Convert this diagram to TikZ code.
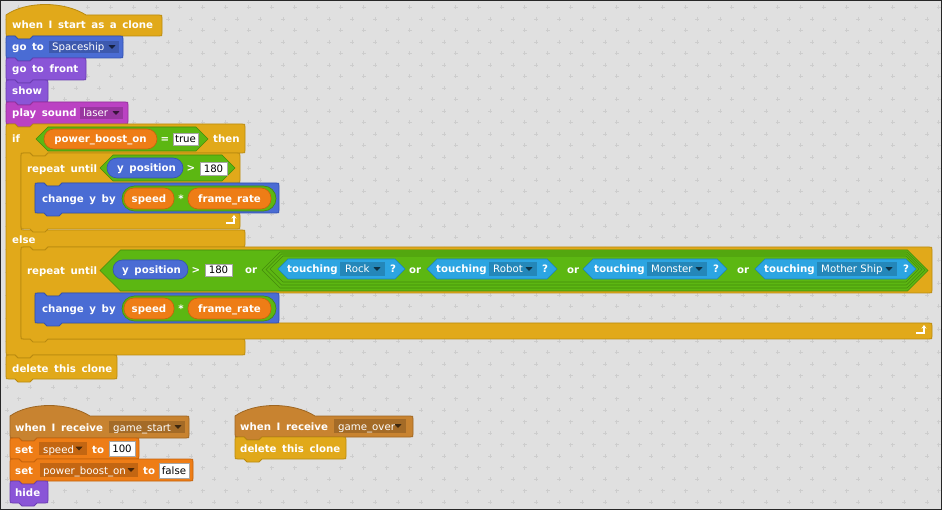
\documentclass[tikz,border=0pt]{standalone}
\usepackage{fontspec}
\setmainfont{DejaVu Sans}
\usetikzlibrary{arrows.meta}
\definecolor{bg}{HTML}{E0E0E0}
\definecolor{gridc}{HTML}{CDCDCD}
\definecolor{ctrl}{HTML}{E1A91A}\definecolor{ctrlD}{HTML}{B98A10}
\definecolor{mot}{HTML}{4A6CD4}\definecolor{motD}{HTML}{3352B0}
\definecolor{look}{HTML}{8A55D7}\definecolor{lookD}{HTML}{6A3DB0}
\definecolor{snd}{HTML}{BB42C3}\definecolor{sndD}{HTML}{93309A}
\definecolor{evt}{HTML}{C88330}\definecolor{evtD}{HTML}{9E6622}
\definecolor{var}{HTML}{EE7D16}\definecolor{varD}{HTML}{C4620C}
\definecolor{op}{HTML}{5CB712}\definecolor{opD}{HTML}{448A0C}
\definecolor{sens}{HTML}{2CA5E2}\definecolor{sensD}{HTML}{1C82B8}
\newcommand\lblfont{\fontsize{10.2}{12}\selectfont\bfseries\spaceskip 5.6pt\relax}
\newcommand\ddfont{\fontsize{10.2}{12}\selectfont}
\newcommand\stackblk[5]{%
\path[fill=#1, draw=#1D, line width=0.8pt]
 (#2,#3+3) .. controls (#2,#3) .. (#2+3,#3) -- (#2+9,#3) -- (#2+12,#3+3) -- (#2+24,#3+3) -- (#2+27,#3)
 -- (#4-3,#3) .. controls (#4,#3) .. (#4,#3+3) -- (#4,#5-3) .. controls (#4,#5) .. (#4-3,#5)
 -- (#2+27,#5) -- (#2+24,#5+3) -- (#2+12,#5+3) -- (#2+9,#5) -- (#2+3,#5) .. controls (#2,#5) .. (#2,#5-3) -- cycle;}
\newcommand\hatblk[5]{%
\path[fill=#1, draw=#1D, line width=0.8pt]
 (#2,#3) .. controls (#2+20,#3-14) and (#2+58,#3-14) .. (#2+80,#3)
 -- (#4-3,#3) .. controls (#4,#3) .. (#4,#3+3) -- (#4,#5-3) .. controls (#4,#5) .. (#4-3,#5)
 -- (#2+27,#5) -- (#2+24,#5+3) -- (#2+12,#5+3) -- (#2+9,#5) -- (#2+3,#5) .. controls (#2,#5) .. (#2,#5-3) -- cycle;}
\newcommand\cblk[8]{%
\path[fill=#1, draw=#1D, line width=0.8pt]
 (#2,#3+3) .. controls (#2,#3) .. (#2+3,#3) -- (#2+9,#3) -- (#2+12,#3+3) -- (#2+24,#3+3) -- (#2+27,#3)
 -- (#4-3,#3) .. controls (#4,#3) .. (#4,#3+3) -- (#4,#5-3) .. controls (#4,#5) .. (#4-3,#5)
 -- (#2+#8+27,#5) -- (#2+#8+24,#5+3) -- (#2+#8+12,#5+3) -- (#2+#8+9,#5) -- (#2+#8+3,#5) .. controls (#2+#8,#5) .. (#2+#8,#5+3)
 -- (#2+#8,#6-3) .. controls (#2+#8,#6) .. (#2+#8+3,#6)
 -- (#4-3,#6) .. controls (#4,#6) .. (#4,#6+3) -- (#4,#7-3) .. controls (#4,#7) .. (#4-3,#7)
 -- (#2+27,#7) -- (#2+24,#7+3) -- (#2+12,#7+3) -- (#2+9,#7) -- (#2+3,#7) .. controls (#2,#7) .. (#2,#7-3) -- cycle;}
\newcommand\pill[6]{\path[fill=#1, draw=#1D, line width=0.6pt, rounded corners=#6pt] (#2,#3) rectangle (#4,#5);}
\newcommand\hexb[5]{\path[fill=#1, draw=#1D, line width=0.6pt]
 (#2,{(#3+#5)/2}) -- ({#2+(#5-#3)/2},#3) -- ({#4-(#5-#3)/2},#3) -- (#4,{(#3+#5)/2}) -- ({#4-(#5-#3)/2},#5) -- ({#2+(#5-#3)/2},#5) -- cycle;}
\newcommand\ddbox[6]{\path[fill=#1!82!black] (#2,#3) rectangle (#4,#5);
 \fill[#1!30!black] (#6-3.5,{(#3+#5)/2-1.8}) -- (#6+3.5,{(#3+#5)/2-1.8}) -- (#6,{(#3+#5)/2+2}) -- cycle;}
\newcommand\inbox[4]{\path[fill=white, draw=black!35, line width=0.4pt] (#1,#2) rectangle (#3,#4);}
\newcommand\looparrow[2]{\draw[white, line width=1.4pt, -{Stealth[length=3.5pt,width=5pt]}] (#1-8,#2+3) -- (#1,#2+3) -- (#1,#2-5);}
\tikzset{
 lbl/.style={anchor=base west, inner sep=0pt, text=white, font=\lblfont},
 lblc/.style={lbl, anchor=base},
 ddt/.style={anchor=base west, inner sep=0pt, text=white, font=\ddfont},
 numt/.style={anchor=base, inner sep=0pt, text=black, font=\ddfont},
}
\begin{document}
\begin{tikzpicture}[x=1pt,y=-1pt]
\useasboundingbox (0,0) rectangle (942,510);
\fill[bg] (0,0) rectangle (942,510);
\draw[gridc, line width=0.9pt] foreach \i in {0,...,41}{ foreach \j in {0,...,22}{
 (7+23*\i-2,19+23*\j) -- ++(4,0) (7+23*\i,19+23*\j-2) -- ++(0,4)
 (18.5+23*\i-2,7.5+23*\j) -- ++(4,0) (18.5+23*\i,7.5+23*\j-2) -- ++(0,4) }};
\draw[black!85, line width=1pt] (0.5,0.5) rectangle (941.5,509.5);

% ---------- script 1 ----------
\hatblk{ctrl}{6}{15}{162}{36}
\node[lbl] (t1) at (12,29) {when I start as a clone};
\stackblk{mot}{6}{36}{123}{58}
\node[lbl] (t2) at (12,51) {go to};
\ddbox{mot}{49}{41}{119}{53}{112}
\node[ddt] (t2d) at (52,51) {Spaceship};
\stackblk{look}{6}{58}{86}{80}
\node[lbl] (t3) at (12,73) {go to front};
\stackblk{look}{6}{80}{48}{102}
\node[lbl] (t4) at (12,95) {show};
\stackblk{snd}{6}{102}{128}{124}
\node[lbl] (t5) at (12,117) {play sound};
\ddbox{snd}{80}{107}{123}{119}{116}
\node[ddt] (t5d) at (83,117) {laser};

% if / else
\path[fill=ctrl, draw=ctrlD, line width=0.8pt]
 (6,127) .. controls (6,124) .. (9,124) -- (15,124) -- (18,127) -- (30,127) -- (33,124) -- (242,124) .. controls (245,124) .. (245,127) -- (245,150) .. controls (245,153) .. (242,153)
 -- (48,153) -- (45,156) -- (33,156) -- (30,153) -- (24,153) .. controls (21,153) .. (21,156)
 -- (21,227) .. controls (21,230) .. (24,230) -- (242,230) .. controls (245,230) .. (245,233) -- (245,244) .. controls (245,247) .. (242,247)
 -- (48,247) -- (45,250) -- (33,250) -- (30,247) -- (24,247) .. controls (21,247) .. (21,250)
 -- (21,336) .. controls (21,339) .. (24,339) -- (242,339) .. controls (245,339) .. (245,342) -- (245,352) .. controls (245,355) .. (242,355)
 -- (33,355) -- (30,358) -- (18,358) -- (15,355) -- (9,355) .. controls (6,355) .. (6,352) -- cycle;
\node[lbl] (tif) at (12,143) {if};
\hexb{op}{36}{127}{208}{151}
\pill{var}{44}{129}{157}{149}{10}
\node[lblc] (tpb) at (100.5,143) {power\_boost\_on};
\node[lblc] (teq) at (165,143) {=};
\inbox{173}{133}{198}{145}
\node[numt] (ttrue) at (185.5,142.5) {true};
\node[lbl] (tthen) at (213,143) {then};
\node[lbl] (telse) at (12,243.5) {else};

% repeat until 1
\cblk{ctrl}{21}{153}{240}{183}{213}{229}{14}
\node[lbl] (tr1) at (27,173) {repeat until};
\hexb{op}{100}{155}{235}{181}
\pill{mot}{107}{158}{183}{178}{10}
\node[lbl] (typ1) at (117,172) {y position};
\node[lblc] (tgt1) at (191,172) {>};
\inbox{200}{162}{227}{175}
\node[numt] (t180a) at (213.5,172.5) {180};
\looparrow{234}{220}
\stackblk{mot}{35}{183}{279}{213}
\node[lbl] (tcy1) at (42,203) {change y by};
\pill{op}{122}{186}{276}{211}{12.5}
\pill{var}{124}{188}{174}{209}{10}
\node[lblc] (tsp1) at (149,203) {speed};
\node[lblc] (tmul1) at (181,203) {*};
\pill{var}{188}{188}{271}{209}{10}
\node[lblc] (tfr1) at (229.5,203) {frame\_rate};

% repeat until 2
\cblk{ctrl}{21}{247}{932}{293}{323}{339}{14}
\node[lbl] (tr2) at (27,275) {repeat until};
\hexb{op}{100}{250}{928}{291}
\pill{mot}{113}{260}{188}{279}{9.5}
\node[lbl] (typ2) at (122,273.5) {y position};
\node[lblc] (tgt2) at (196,273.5) {>};
\inbox{205}{264}{232}{276}
\node[numt] (t180b) at (218.5,273.5) {180};
\node[lbl] (tor1) at (245,274) {or};
\hexb{op}{262}{252}{925}{288}
\hexb{op}{266}{254}{922}{285}
\hexb{op}{270}{256}{919}{282}
% touching Rock
\hexb{sens}{278}{259}{405}{279}
\node[lbl] (tt1) at (287,273) {touching};
\ddbox{sens}{340}{262}{385}{276}{377}
\node[ddt] (tt1d) at (345,273) {Rock};
\node[lbl] (tq1) at (390,273) {?};
\node[lbl] (tor2) at (409,274) {or};
% touching Robot
\hexb{sens}{427}{259}{557}{279}
\node[lbl] (tt2) at (436,273) {touching};
\ddbox{sens}{489}{262}{537}{276}{529}
\node[ddt] (tt2d) at (493,273) {Robot};
\node[lbl] (tq2) at (542,273) {?};
\node[lbl] (tor3) at (567,274) {or};
% touching Monster
\hexb{sens}{583}{259}{727}{279}
\node[lbl] (tt3) at (594,273) {touching};
\ddbox{sens}{647}{262}{707}{276}{699}
\node[ddt] (tt3d) at (651,273) {Monster};
\node[lbl] (tq3) at (713,273) {?};
\node[lbl] (tor4) at (737,274) {or};
% touching Mother Ship
\hexb{sens}{755}{259}{916}{279}
\node[lbl] (tt4) at (764,273) {touching};
\ddbox{sens}{817}{262}{897}{276}{889}
\node[ddt] (tt4d) at (821,273) {Mother Ship};
\node[lbl] (tq4) at (903,273) {?};
\looparrow{924}{330}
\stackblk{mot}{35}{293}{279}{323}
\node[lbl] (tcy2) at (42,313) {change y by};
\pill{op}{122}{296}{276}{321}{12.5}
\pill{var}{124}{298}{174}{319}{10}
\node[lblc] (tsp2) at (149,313) {speed};
\node[lblc] (tmul2) at (181,313) {*};
\pill{var}{188}{298}{271}{319}{10}
\node[lblc] (tfr2) at (229.5,313) {frame\_rate};

\stackblk{ctrl}{6}{355}{117}{379}
\node[lbl] (tdel1) at (12,372) {delete this clone};

% ---------- script 2 ----------
\hatblk{evt}{10}{416}{189}{438}
\node[lbl] (tw2) at (15,431) {when I receive};
\ddbox{evt}{109}{421}{185}{433}{178}
\node[ddt] (tw2d) at (113,431) {game\_start};
\stackblk{var}{10}{438}{139}{459}
\node[lbl] (ts1) at (15,453) {set};
\ddbox{var}{39}{442}{87}{455}{79}
\node[ddt] (ts1d) at (43,453) {speed};
\node[lbl] (ts1to) at (92,453) {to};
\inbox{109}{441}{135}{456}
\node[numt] (t100) at (122,452.5) {100};
\stackblk{var}{10}{459}{193}{481}
\node[lbl] (ts2) at (15,474) {set};
\ddbox{var}{40}{463}{138}{477}{131}
\node[ddt] (ts2d) at (43,474) {power\_boost\_on};
\node[lbl] (ts2to) at (143,474) {to};
\inbox{159}{463}{189}{478}
\node[numt] (tfalse) at (174,474) {false};
\stackblk{look}{10}{481}{48}{503}
\node[lbl] (thide) at (15,496) {hide};

% ---------- script 3 ----------
\hatblk{evt}{235}{416}{413}{437}
\node[lbl] (tw3) at (240,430) {when I receive};
\ddbox{evt}{334}{419}{406}{433}{398}
\node[ddt] (tw3d) at (338,430) {game\_over};
\stackblk{ctrl}{235}{437}{346}{459}
\node[lbl] (tdel2) at (240,452) {delete this clone};
\end{tikzpicture}
\end{document}
